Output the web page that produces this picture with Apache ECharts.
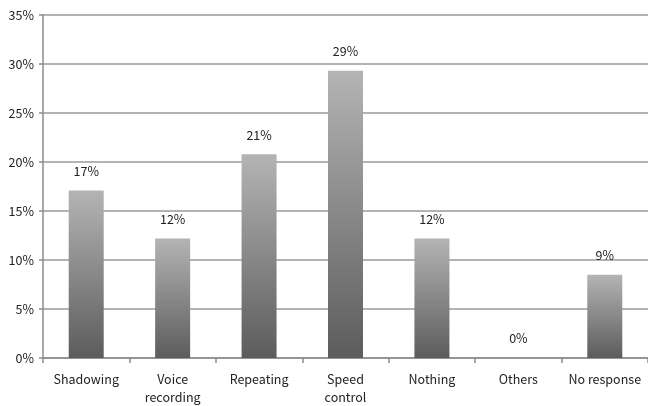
<!DOCTYPE html>
<html>
<head>
<meta charset="utf-8">
<style>
  html, body { margin: 0; padding: 0; background: #fff; }
  #chart { width: 648px; height: 406px; }
</style>
<script src="https://cdn.jsdelivr.net/npm/echarts@6/dist/echarts.min.js"></script>
</head>
<body>
<div id="chart"></div>
<script>
// Survey categories and the share of responses (%) for each
const categories = ['Shadowing', 'Voice\nrecording', 'Repeating', 'Speed\ncontrol', 'Nothing', 'Others', 'No response'];
const shares = [17.1, 12.2, 20.8, 29.3, 12.2, 0, 8.5];
const yTicks = { min: 0, max: 35, step: 5 };

const chart = echarts.init(document.getElementById('chart'), null, { renderer: 'canvas' });
const font = '"Noto Sans CJK JP", "DejaVu Sans", sans-serif';

chart.setOption({
  animation: false,
  backgroundColor: '#ffffff',
  grid: { left: 43, top: 15, width: 606, height: 346, containLabel: false },
  xAxis: {
    type: 'category',
    data: categories,
    boundaryGap: true,
    axisLine: { lineStyle: { color: '#8c8c8c', width: 1.5 } },
    axisTick: { show: true, alignWithLabel: false, length: 5, lineStyle: { color: '#8c8c8c', width: 1.5 } },
    axisLabel: { color: '#222', fontFamily: font, fontSize: 12.5, margin: 12, lineHeight: 18, interval: 0 }
  },
  yAxis: {
    type: 'value',
    min: yTicks.min,
    max: yTicks.max,
    interval: yTicks.step,
    axisLine: { show: true, lineStyle: { color: '#8c8c8c', width: 1.5 } },
    axisTick: { show: true, length: 4, lineStyle: { color: '#8c8c8c', width: 1.5 } },
    splitLine: { lineStyle: { color: '#9a9a9a', width: 1.5 } },
    axisLabel: { color: '#222', fontFamily: font, fontSize: 12.5, margin: 9, formatter: v => v + '%' }
  },
  series: [{
    type: 'bar',
    data: shares,
    barWidth: 35,
    itemStyle: {
      color: new echarts.graphic.LinearGradient(0, 0, 0, 1, [
        { offset: 0, color: '#b4b4b4' },
        { offset: 1, color: '#5c5c5c' }
      ])
    },
    label: {
      show: true,
      position: 'top',
      distance: 13,
      color: '#222',
      fontFamily: font,
      fontSize: 12.5,
      formatter: p => Math.round(p.value) + '%'
    }
  }]
});
</script>
</body>
</html>
